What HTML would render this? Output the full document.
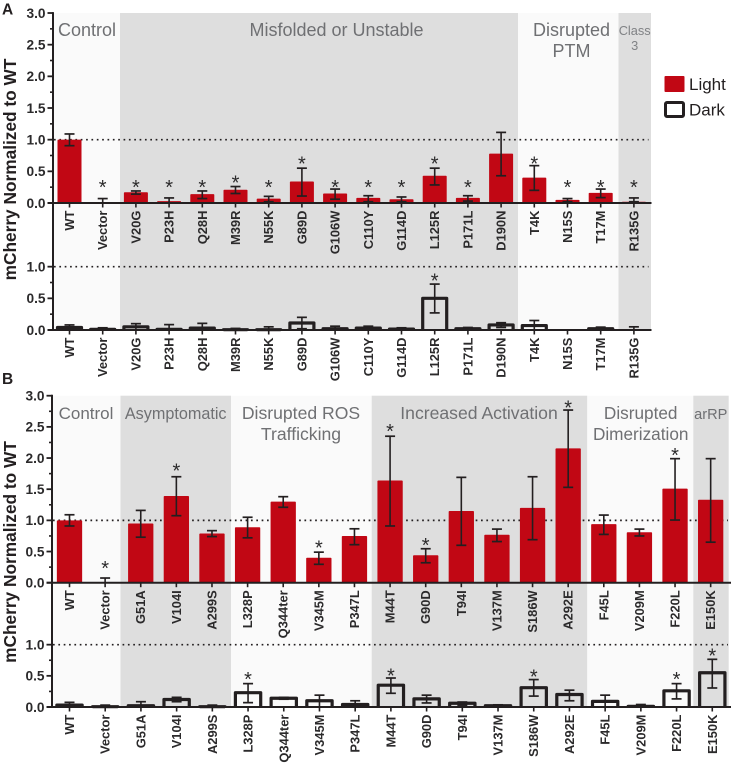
<!DOCTYPE html>
<html lang="en">
<head>
<meta charset="utf-8">
<title>mCherry Normalized to WT</title>
<style>
html,body{margin:0;padding:0;background:#fff;width:733px;height:763px;overflow:hidden}
svg{display:block;font-family:"Liberation Sans",Arial,sans-serif}
.grp{font-size:18px;fill:#6f7073;text-anchor:middle}
.grpb{font-size:17.6px;fill:#6f7073;text-anchor:middle}
</style>
</head>
<body>
<svg id="chart" xmlns="http://www.w3.org/2000/svg" width="733" height="763" viewBox="0 0 733 763">
  <g>
    <rect x="53" y="13" width="67" height="317" fill="#fafafa"/>
    <rect x="120" y="13" width="398" height="317" fill="#dedede"/>
    <rect x="518" y="13" width="100.5" height="317" fill="#fafafa"/>
    <rect x="618.5" y="13" width="32.5" height="317" fill="#dedede"/>
  </g>
  <g>
    <rect x="52" y="395.7" width="68.5" height="311.3" fill="#fafafa"/>
    <rect x="120.5" y="395.7" width="110.5" height="311.3" fill="#dedede"/>
    <rect x="231" y="395.7" width="140.7" height="311.3" fill="#fafafa"/>
    <rect x="371.7" y="395.7" width="215.6" height="311.3" fill="#dedede"/>
    <rect x="587.3" y="395.7" width="106" height="311.3" fill="#fafafa"/>
    <rect x="693.3" y="395.7" width="35.4" height="311.3" fill="#dedede"/>
  </g>
  <g>
    <text class="grp" x="87" y="36">Control</text>
    <text class="grp" x="336.5" y="36">Misfolded or Unstable</text>
    <text class="grp" x="571.5" y="36">Disrupted</text>
    <text class="grp" x="571.5" y="57">PTM</text>
    <text x="634.7" y="35" font-size="12.8" fill="#808285" text-anchor="middle">Class</text>
    <text x="634.7" y="50" font-size="12.8" fill="#808285" text-anchor="middle">3</text>
  </g>
  <g>
    <text class="grpb" x="86" y="419" style="font-size:17px">Control</text>
    <text class="grpb" x="175.7" y="419" style="font-size:16.2px">Asymptomatic</text>
    <text class="grpb" x="301" y="419">Disrupted ROS</text>
    <text class="grpb" x="301" y="440">Trafficking</text>
    <text class="grpb" x="479" y="419">Increased Activation</text>
    <text class="grpb" x="640.7" y="419" style="font-size:17.2px">Disrupted</text>
    <text class="grpb" x="640.7" y="440" style="font-size:17.2px">Dimerization</text>
    <text x="710.8" y="419" font-size="14.6" fill="#6f7073" text-anchor="middle">arRP</text>
  </g>
  <text x="2" y="14.5" font-size="15.5" font-weight="bold" fill="#231f20">A</text>
  <text x="2" y="384" font-size="15.5" font-weight="bold" fill="#231f20">B</text>
  <text transform="translate(16,169.5) rotate(-90)" font-size="17.3" font-weight="bold" fill="#231f20" text-anchor="middle">mCherry Normalized to WT</text>
  <text transform="translate(16,552) rotate(-90)" font-size="17.3" font-weight="bold" fill="#231f20" text-anchor="middle">mCherry Normalized to WT</text>
  <g id="plots"></g>
  <g>
    <rect x="664.5" y="76" width="20" height="16" rx="1" fill="#c10714"/>
    <text x="689" y="90" font-size="17" fill="#231f20">Light</text>
    <rect x="665.5" y="102.5" width="18" height="14" rx="1.5" fill="#fff" stroke="#231f20" stroke-width="3"/>
    <text x="689" y="115.7" font-size="17" fill="#231f20">Dark</text>
  </g>
</svg>
<script>
var categoriesA = ["WT","Vector","V20G","P23H","Q28H","M39R","N55K","G89D","G106W","C110Y","G114D","L125R","P171L","D190N","T4K","N15S","T17M","R135G"];
var lightValuesA = [1.0,0,0.17,0.03,0.14,0.21,0.07,0.34,0.15,0.08,0.06,0.43,0.08,0.78,0.40,0.05,0.16,0.02];
var lightUpperA = [1.09,0.07,0.19,0.08,0.19,0.26,0.105,0.55,0.22,0.115,0.095,0.55,0.115,1.115,0.59,0.07,0.22,0.08];
var lightLowerA = [0.905,0,0.14,0,0.07,0.15,0.02,0.11,0.06,0.02,0.02,0.285,0.03,0.43,0.2,0.02,0.085,0.02];
var lightStarsA = [null,0.32,0.32,0.32,0.32,0.39,0.32,0.69,0.32,0.32,0.32,0.69,0.32,null,0.69,0.32,0.32,0.32];
var darkValuesA = [0.04,0.01,0.05,0.01,0.03,0.005,0.005,0.11,0.02,0.03,0.015,0.5,0.02,0.08,0.07,0,0.02,0];
var darkUpperA = [0.08,0.035,0.1,0.085,0.105,0.025,0.05,0.2,0.06,0.06,0.035,0.725,0.04,0.115,0.15,0,0.045,0.05];
var darkLowerA = [0,0,0,0,0,0,0,0.02,0,0,0,0.27,0,0.04,0,0,0,0];
var darkStarsA = [null,null,null,null,null,null,null,null,null,null,null,0.85,null,null,null,null,null,null];

var categoriesB = ["WT","Vector","G51A","V104I","A299S","L328P","Q344ter","V345M","P347L","M44T","G90D","T94I","V137M","S186W","A292E","F45L","V209M","F220L","E150K"];
var lightValuesB = [1.0,0,0.95,1.39,0.79,0.89,1.30,0.40,0.75,1.64,0.44,1.15,0.77,1.2,2.155,0.94,0.81,1.51,1.33];
var lightUpperB = [1.09,0.075,1.16,1.70,0.835,1.05,1.38,0.49,0.865,2.35,0.545,1.69,0.86,1.7,2.77,1.085,0.86,1.99,1.99];
var lightLowerB = [0.91,0,0.73,1.075,0.74,0.72,1.21,0.295,0.61,0.91,0.32,0.6,0.66,0.69,1.53,0.775,0.75,1.005,0.65];
var lightStarsB = [null,0.305,null,1.87,null,null,null,0.635,null,2.5,0.67,null,null,null,2.88,null,null,2.12,null];
var darkValuesB = [0.03,0.005,0.02,0.12,0.005,0.23,0.14,0.10,0.04,0.35,0.13,0.06,0.02,0.31,0.20,0.09,0.01,0.26,0.55];
var darkUpperB = [0.075,0.03,0.085,0.155,0.03,0.375,0.155,0.19,0.10,0.465,0.19,0.08,0.035,0.44,0.27,0.19,0.04,0.375,0.765];
var darkLowerB = [0,0,0,0.085,0,0.07,0.125,0,0,0.22,0.065,0.03,0,0.175,0.10,0,0,0.13,0.305];
var darkStarsB = [null,null,null,null,null,0.52,null,null,null,0.57,null,null,null,0.56,null,null,null,0.52,0.89];

var lightTicks = ["0.0","0.5","1.0","1.5","2.0","2.5","3.0"];
var darkTicks = ["0.0","0.5","1.0"];
var referenceValue = 1.0;

var NS = "http://www.w3.org/2000/svg";
var INK = "#231f20";
var root = document.getElementById("plots");

function add(parent, tag, attrs, name) {
  var el = document.createElementNS(NS, tag);
  for (var k in attrs) el.setAttribute(k, attrs[k]);
  
  
  parent.appendChild(el);
  return el;
}

function drawYAxis(g, ticks, yFn, cfg, prefix) {
  ticks.forEach(function (t, i) {
    var v = parseFloat(t), y = yFn(v);
    add(g, "line", {x1: cfg.axisX - 5.5, x2: cfg.axisX, y1: y, y2: y, stroke: INK, "stroke-width": 1.8}, prefix + "-major-tick");
    var label = add(g, "text", {x: cfg.axisX - 7.5, y: y + 4.8, "font-size": 13.7, "font-weight": "bold", fill: "#2b2a2b", "text-anchor": "end"}, prefix + "-tick-label");
    label.textContent = t;
    if (i < ticks.length - 1) {
      var my = yFn(v + 0.25);
      add(g, "line", {x1: cfg.axisX - 3, x2: cfg.axisX, y1: my, y2: my, stroke: INK, "stroke-width": 1.6}, prefix + "-minor-tick");
    }
  });
}

function drawSeries(g, cats, vals, upper, lower, stars, yFn, xFn, cfg, kind) {
  cats.forEach(function (c, i) {
    var x = xFn(i), y0 = yFn(0), yv = yFn(vals[i]);
    var slug = c.toLowerCase();
    if (kind === "light") {
      if (vals[i] > 0) {
        add(g, "rect", {x: x - cfg.barW / 2, y: yv, width: cfg.barW, height: y0 - yv, fill: "#c10714", rx: 0.8}, "light-bar-" + slug);
      }
    } else if (vals[i] > 0) {
      var pts = [[x - cfg.barW / 2, y0], [x - cfg.barW / 2, yv], [x + cfg.barW / 2, yv], [x + cfg.barW / 2, y0]];
      add(g, "polyline", {points: pts.map(function (p) { return p.join(","); }).join(" "), fill: "none", stroke: INK, "stroke-width": 3.2, "stroke-linejoin": "round"}, "dark-bar-" + slug);
    }
    if (upper[i] > 0) {
      var yu = yFn(upper[i]), yl = yFn(lower[i]);
      add(g, "line", {x1: x, x2: x, y1: yu, y2: yl, stroke: INK, "stroke-width": 1.6}, kind + "-error-bar-" + slug);
      add(g, "line", {x1: x - 5, x2: x + 5, y1: yu, y2: yu, stroke: INK, "stroke-width": 1.7}, kind + "-error-cap-upper-" + slug);
      if (lower[i] > 0) {
        add(g, "line", {x1: x - 5, x2: x + 5, y1: yl, y2: yl, stroke: INK, "stroke-width": 1.7}, kind + "-error-cap-lower-" + slug);
      }
    }
    if (stars[i] !== null) {
      var star = add(g, "text", {x: x, y: yFn(stars[i]) + 11.2, "font-size": 20, fill: "#2b2a2b", "text-anchor": "middle"}, kind + "-significance-star-" + slug);
      star.textContent = "*";
    }
  });
}

function drawCategoryAxis(g, cats, yFn, xFn, cfg, prefix) {
  var y0 = yFn(0);
  add(g, "line", {x1: cfg.axisX - 5.5, x2: cfg.right, y1: y0, y2: y0, stroke: INK, "stroke-width": 2}, prefix + "-x-axis");
  cats.forEach(function (c, i) {
    var x = xFn(i);
    add(g, "line", {x1: x, x2: x, y1: y0, y2: y0 + 4.5, stroke: INK, "stroke-width": 1.6}, prefix + "-x-tick");
    var t = add(g, "text", {transform: "translate(" + (x + 4.5) + "," + (y0 + 7.6) + ") rotate(-90)", "font-size": 12.9, "font-weight": "bold", fill: "#2b2a2b", "text-anchor": "end"}, prefix + "-x-label");
    t.textContent = c;
  });
}

function drawPanel(p) {
  var g = add(root, "g", {}, "panel-" + p.id);
  var yL = function (v) { return p.lightZero - v * p.lightUnit; };
  var yD = function (v) { return p.darkZero - v * p.darkUnit; };
  var xL = function (i) { return p.firstX + i * p.stepX; };
  var xD = function (i) { return p.firstX + i * p.stepXDark; };

  add(g, "line", {x1: p.axisX + 1, x2: p.right - 3, y1: yL(referenceValue), y2: yL(referenceValue), stroke: INK, "stroke-width": 1.7, "stroke-dasharray": "1.7 3.65"}, "reference-line-light-" + p.id);
  add(g, "line", {x1: p.axisX + 1, x2: p.right - 3, y1: yD(referenceValue), y2: yD(referenceValue), stroke: INK, "stroke-width": 1.7, "stroke-dasharray": "1.7 3.65"}, "reference-line-dark-" + p.id);

  drawSeries(g, p.cats, p.lv, p.lu, p.ll, p.ls, yL, xL, p, "light");
  drawSeries(g, p.cats, p.dv, p.du, p.dl, p.ds, yD, xD, p, "dark");

  add(g, "line", {x1: p.axisX, x2: p.axisX, y1: yL(3) - 0.9, y2: yD(0) + 0.9, stroke: INK, "stroke-width": 2}, "y-axis-" + p.id);
  drawYAxis(g, lightTicks, yL, p, "light-y-" + p.id);
  drawYAxis(g, darkTicks, yD, p, "dark-y-" + p.id);
  drawCategoryAxis(g, p.cats, yL, xL, p, "light-" + p.id);
  drawCategoryAxis(g, p.cats, yD, xD, p, "dark-" + p.id);
}

drawPanel({id: "a", cats: categoriesA, lv: lightValuesA, lu: lightUpperA, ll: lightLowerA, ls: lightStarsA,
  dv: darkValuesA, du: darkUpperA, dl: darkLowerA, ds: darkStarsA,
  lightZero: 203, lightUnit: 63.33, darkZero: 330, darkUnit: 63.33,
  firstX: 69.5, stepX: 33.2, stepXDark: 33.2, barW: 24, axisX: 53, right: 651.5});
drawPanel({id: "b", cats: categoriesB, lv: lightValuesB, lu: lightUpperB, ll: lightLowerB, ls: lightStarsB,
  dv: darkValuesB, du: darkUpperB, dl: darkLowerB, ds: darkStarsB,
  lightZero: 582.7, lightUnit: 62.33, darkZero: 707, darkUnit: 62.33,
  firstX: 69.5, stepX: 35.62, stepXDark: 35.71, barW: 25.3, axisX: 52, right: 731});
</script>
</body>
</html>
